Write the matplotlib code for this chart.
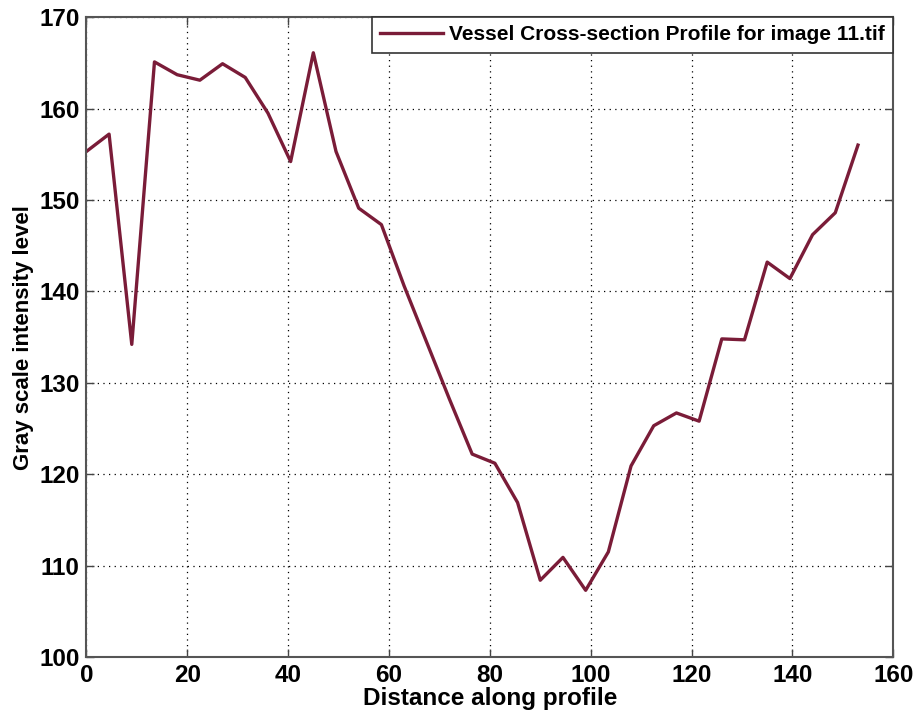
import matplotlib
matplotlib.use("Agg")
import matplotlib.pyplot as plt
import numpy as np

# profile samples (step ~4.5 px along the profile)
distance = np.arange(35) * 4.5
intensity = [155.3, 157.2, 134.2, 165.1, 163.7, 163.1, 164.9, 163.4, 159.5, 154.2,
             166.1, 155.3, 149.1, 147.3, 140.6, 134.4, 128.2, 122.2, 121.2, 116.9,
             108.4, 110.9, 107.3, 111.5, 120.9, 125.3, 126.7, 125.8, 134.8, 134.7,
             143.2, 141.4, 146.2, 148.6, 156.0]

xticks = [0, 20, 40, 60, 80, 100, 120, 140, 160]
yticks = [100, 110, 120, 130, 140, 150, 160, 170]

plt.rcParams['font.family'] = ['Liberation Sans', 'DejaVu Sans']

fig = plt.figure(figsize=(9.19, 7.13), dpi=100)
ax = fig.add_axes([0.094, 0.0785, 0.878, 0.8975])

ax.plot(distance, intensity, color='#7a1c38', linewidth=2.4,
        label='Vessel Cross-section Profile for image 11.tif')

ax.set_xlim(0, 160)
ax.set_ylim(100, 170)
ax.set_xticks(xticks)
ax.set_yticks(yticks)
ax.tick_params(direction='in', length=6, labelsize=17.5, pad=5,
               top=True, right=True, width=1, color='#444444')
for lbl in ax.get_xticklabels() + ax.get_yticklabels():
    lbl.set_fontweight('bold')
for sp in ax.spines.values():
    sp.set_color('#555555')
    sp.set_linewidth(1.5)

ax.grid(True, linestyle=(0, (1, 3.5)), color='black', linewidth=0.9)

ax.set_xlabel('Distance along profile', fontsize=17.5, fontweight='bold', labelpad=0)
ax.set_ylabel('Gray scale intensity level', fontsize=16, fontweight='bold', labelpad=4)

leg = ax.legend(loc='upper right', fancybox=False, framealpha=1,
                borderaxespad=0, handlelength=3.0, borderpad=0.4, handletextpad=0.3,
                prop={'weight': 'bold', 'size': 15})
leg.get_frame().set_edgecolor('#333333')
leg.get_frame().set_linewidth(1.2)

fig.savefig('out.png', dpi=100)
